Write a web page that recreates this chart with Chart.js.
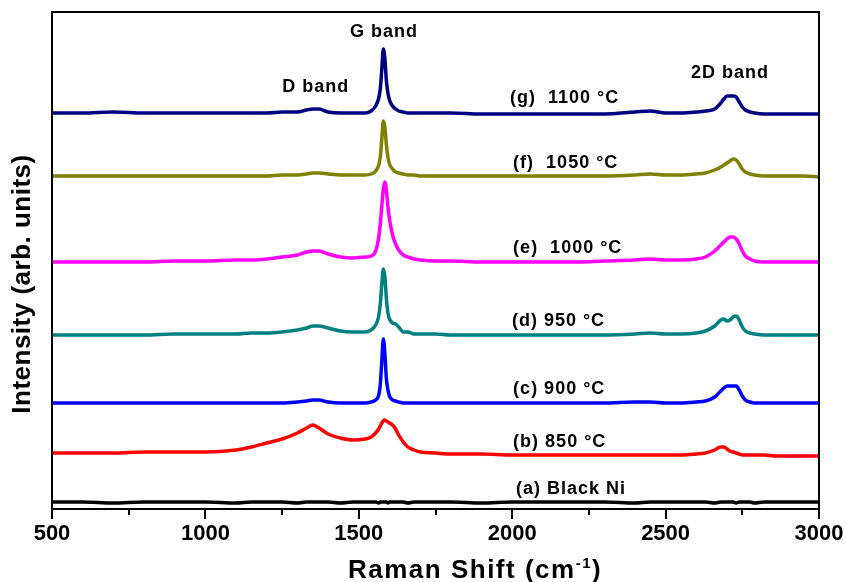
<!DOCTYPE html>
<html>
<head>
<meta charset="utf-8">
<title>Raman spectra</title>
<script src="https://cdn.jsdelivr.net/npm/chart.js@4.4.1/dist/chart.umd.min.js"></script>
<style>
    html, body { margin: 0; padding: 0; background: #fff; }
    #raman { display: block; }
</style>
</head>
<body>
<canvas id="raman" width="847" height="582"></canvas>
<script>
// Raman shift sample points (cm-1), shared by all spectra
const shiftCm = [
    500, 600, 700, 800, 900, 1000, 1100,
    1150, 1200, 1250, 1300, 1330, 1350, 1370, 1400,
    1440, 1480, 1520, 1540, 1555, 1565, 1570, 1575,
    1580, 1585, 1590, 1595, 1600, 1610, 1620, 1630,
    1645, 1660, 1680, 1700, 1750, 1800, 1900, 2000,
    2100, 2200, 2300, 2400, 2450, 2500, 2550, 2600,
    2630, 2660, 2680, 2690, 2700, 2710, 2720,
    2730, 2740, 2750, 2760, 2775, 2790, 2820, 2860, 2900, 2950, 3000
];

// intensities (arb. units, stacked with offsets as in the figure)
const g1100 = [
    396, 396, 397, 396, 396, 396, 396,
    396, 396, 397, 397, 399, 400, 400, 397,
    396, 396, 396, 398, 403, 411, 420, 440,
    460, 450, 428, 416, 409, 403, 400, 398,
    397, 396, 396, 396, 396, 396, 395, 395,
    395, 395, 395, 397, 398, 396, 396, 397,
    398, 400, 406, 410, 413, 413, 413,
    412, 407, 402, 399, 397, 396, 395, 395, 395, 395, 395
];
const f1050 = [
    333, 333, 333, 333, 333, 333, 333,
    333, 333, 334, 334, 335, 336, 336, 335,
    334, 334, 334, 335, 338, 344, 352, 370,
    388, 382, 364, 352, 345, 340, 337, 336,
    335, 334, 334, 333, 333, 333, 333, 333,
    333, 333, 333, 334, 335, 334, 334, 335,
    336, 339, 342, 344, 346, 348, 350,
    349, 345, 340, 337, 335, 334, 333, 333, 333, 333, 332
];
const e1000 = [
    247, 247, 247, 247, 248, 248, 249,
    249, 250, 252, 254, 257, 258, 258, 255,
    252, 251, 252, 253, 258, 272, 285, 303,
    320, 327, 318, 302, 290, 274, 265, 259,
    254, 252, 250, 249, 248, 248, 247, 247,
    247, 247, 248, 249, 250, 249, 249, 250,
    252, 258, 264, 267, 270, 272, 272,
    270, 265, 258, 253, 250, 248, 247, 247, 247, 247, 247
];
const d950 = [
    174, 174, 174, 174, 175, 175, 175,
    176, 176, 177, 179, 181, 183, 183, 181,
    178, 177, 177, 179, 184, 193, 205, 225,
    240, 232, 210, 196, 190, 186, 185, 182,
    177, 177, 175, 175, 175, 174, 174, 174,
    174, 174, 174, 175, 176, 175, 175, 176,
    178, 183, 189, 190, 188, 189, 192,
    193, 189, 182, 178, 176, 175, 174, 174, 174, 174, 174
];
const c900 = [
    106, 106, 106, 106, 106, 106, 106,
    106, 106, 106, 107, 108, 109, 109, 107,
    106, 106, 106, 107, 109, 114, 124, 148,
    170, 155, 130, 119, 113, 109, 108, 107,
    106, 106, 106, 106, 106, 106, 106, 106,
    106, 106, 106, 107, 107, 106, 106, 107,
    108, 112, 118, 121, 123, 123, 123,
    123, 119, 113, 109, 107, 106, 106, 106, 106, 106, 106
];
const b850 = [
    56, 56, 56, 57, 57, 57, 59,
    62, 66, 70, 76, 81, 84, 81, 75,
    71, 69, 70, 72, 76, 80, 83, 86,
    88, 89, 88, 87, 86, 84, 80, 74,
    67, 62, 59, 57, 56, 55, 55, 54,
    54, 54, 54, 54, 54, 54, 54, 55,
    56, 59, 62, 62, 60, 58, 57,
    56, 55, 54, 54, 54, 54, 54, 53, 53, 53, 53
];
const aBlackNi = [
    7, 7, 6, 7, 7, 7, 6,
    7, 7, 7, 6, 7, 7, 7, 7,
    6, 7, 7, 7, 7, 6, 7, 7,
    7, 7, 7, 6, 7, 7, 7, 7,
    7, 6, 7, 7, 7, 7, 6, 7,
    7, 7, 7, 6, 7, 7, 7, 7,
    7, 6, 7, 7, 7, 7, 7,
    6, 7, 7, 7, 7, 6, 7, 7, 7, 7, 7
];

const seriesNames = ['(g)  1100 °C', '(f)  1050 °C', '(e)  1000 °C', '(d) 950 °C', '(c) 900 °C', '(b) 850 °C', '(a) Black Ni'];
const bandNames = ['D band', 'G band', '2D band'];

// axis ticks
const xTickValues = [500, 1000, 1500, 2000, 2500, 3000];
const xMinorTicks = [750, 1250, 1750, 2250, 2750];

// colours
const seriesColors = ['#000080', '#808000', '#ff00ff', '#008080', '#0000ff', '#ff0000', '#000000'];
const FONT = '"Liberation Sans", Arial, Helvetica, sans-serif';

// text label anchors, in data units [shift, intensity]
const seriesLabelAt = [[1993, 411], [2003, 346], [2003, 261], [1999, 188], [2003, 120], [2003, 67], [2012, 20]];
const bandLabelAt = [[1360, 422], [1582, 477], [2710, 436]];

const allSeries = [g1100, f1050, e1000, d950, c900, b850, aBlackNi];

const datasets = allSeries.map((vals, i) => ({
    label: seriesNames[i],
    data: shiftCm.map((s, k) => ({ x: s, y: vals[k] })),
    borderColor: seriesColors[i],
    borderWidth: 3.5,
    pointRadius: 0,
    cubicInterpolationMode: 'monotone',
    borderJoinStyle: 'round',
    borderCapStyle: 'round'
}));

// frame, minor ticks, titles and text labels
const decorPlugin = {
    id: 'decor',
    afterDraw(chart) {
        const { ctx, chartArea: a, scales } = chart;
        const x = scales.x, y = scales.y;
        ctx.save();

        ctx.strokeStyle = '#000';
        ctx.lineWidth = 2;
        ctx.strokeRect(a.left, a.top, a.right - a.left, a.bottom - a.top);

        xMinorTicks.forEach(v => {
            const px = Math.round(x.getPixelForValue(v));
            ctx.beginPath();
            ctx.moveTo(px, a.bottom);
            ctx.lineTo(px, a.bottom + 6);
            ctx.stroke();
        });

        ctx.fillStyle = '#000';
        ctx.font = 'bold 18px ' + FONT;
        ctx.letterSpacing = '1px';
        ctx.textBaseline = 'middle';

        ctx.textAlign = 'left';
        seriesNames.forEach((t, i) => {
            const p = seriesLabelAt[i];
            ctx.fillText(t, x.getPixelForValue(p[0]), y.getPixelForValue(p[1]));
        });

        ctx.textAlign = 'center';
        bandNames.forEach((t, i) => {
            const p = bandLabelAt[i];
            ctx.fillText(t, x.getPixelForValue(p[0]), y.getPixelForValue(p[1]));
        });

        // y title
        ctx.save();
        ctx.translate(23, 284);
        ctx.rotate(-Math.PI / 2);
        ctx.font = 'bold 26px ' + FONT;
        ctx.letterSpacing = '0.5px';
        ctx.textAlign = 'center';
        ctx.fillText('Intensity (arb. units)', 0, 0);
        ctx.restore();

        // x title with superscript
        ctx.textAlign = 'left';
        ctx.textBaseline = 'alphabetic';
        ctx.letterSpacing = '1.5px';
        let tx = 348;
        const base = 578;
        ctx.font = 'bold 26px ' + FONT;
        ctx.fillText('Raman Shift (cm', tx, base);
        tx += ctx.measureText('Raman Shift (cm').width;
        ctx.font = 'bold 15px ' + FONT;
        ctx.fillText('-1', tx, base - 10);
        tx += ctx.measureText('-1').width;
        ctx.font = 'bold 26px ' + FONT;
        ctx.fillText(')', tx, base);

        ctx.restore();
    }
};

const ramanChart = new Chart(document.getElementById('raman'), {
    type: 'line',
    data: { datasets },
    options: {
        responsive: false,
        animation: false,
        layout: { padding: { left: 52, right: 28, top: 12, bottom: 0 } },
        plugins: {
            legend: { display: false },
            tooltip: { enabled: false }
        },
        scales: {
            x: {
                type: 'linear',
                min: 500,
                max: 3000,
                afterFit(scale) { scale.height = 73; },
                afterBuildTicks(scale) { scale.ticks = xTickValues.map(v => ({ value: v })); },
                border: { display: false },
                grid: { drawOnChartArea: false, drawTicks: true, tickLength: 10, lineWidth: 2, color: '#000' },
                ticks: {
                    padding: 2,
                    color: '#000',
                    maxRotation: 0,
                    autoSkip: false,
                    font: { family: FONT, size: 22, weight: 'bold' },
                    callback: v => String(v)
                }
            },
            y: {
                type: 'linear',
                display: false,
                min: 0,
                max: 497
            }
        }
    },
    plugins: [decorPlugin]
});
</script>
</body>
</html>
